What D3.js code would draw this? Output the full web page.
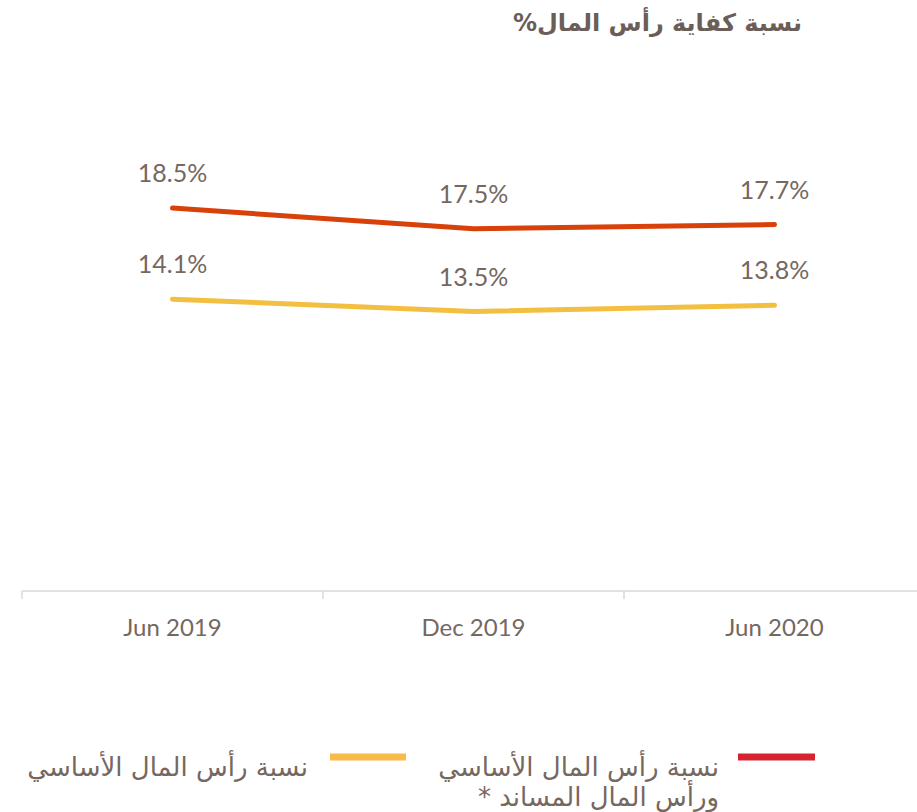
<!DOCTYPE html>
<html>
<head>
<meta charset="utf-8">
<script src="https://cdn.jsdelivr.net/npm/d3@7"></script>
<style>
  body { margin: 0; background: #fff; }
  svg text { font-family: Lato, "Open Sans", sans-serif; }
  .ar { font-family: "DejaVu Sans", "Noto Sans", sans-serif; }
</style>
</head>
<body>
<div id="chart"></div>
<script>
const periods = ["Jun 2019", "Dec 2019", "Jun 2020"];
const totalCar = [18.5, 17.5, 17.7];   // core + supplementary
const coreCar = [14.1, 13.5, 13.8];
const title = "نسبة كفاية رأس المال%";
const legendCore = "نسبة رأس المال الأساسي";
const legendTotal = ["نسبة رأس المال الأساسي", "ورأس المال المساند *"];

const width = 917, height = 812;
const textColor = "#76675f";

const svg = d3.select("#chart").append("svg")
    .attr("width", width)
    .attr("height", height);

const x = d3.scaleBand()
    .domain(periods)
    .range([22, 925])
    .paddingInner(0)
    .paddingOuter(0);

const y = d3.scaleLinear()
    .domain([0, 20])
    .range([591, 177]);

// title
svg.append("text")
    .attr("class", "ar")
    .attr("x", 802)
    .attr("y", 31)
    .attr("direction", "rtl")
    .attr("text-anchor", "start")
    .attr("font-size", 24)
    .attr("font-weight", "bold")
    .attr("fill", "#6b5e57")
    .text(title);

// x axis
const axisG = svg.append("g").attr("transform", "translate(0,591)");
axisG.append("line")
    .attr("x1", 22).attr("x2", width)
    .attr("stroke", "#d9d9d9").attr("stroke-width", 1.5);
axisG.selectAll("line.tick")
    .data(periods)
    .enter().append("line")
    .attr("class", "tick")
    .attr("x1", d => x(d)).attr("x2", d => x(d))
    .attr("y1", 0).attr("y2", 8)
    .attr("stroke", "#d9d9d9").attr("stroke-width", 1.5);
axisG.selectAll("text")
    .data(periods)
    .enter().append("text")
    .attr("x", d => x(d) + x.bandwidth() / 2)
    .attr("y", 45)
    .attr("text-anchor", "middle")
    .attr("font-size", 24)
    .attr("fill", textColor)
    .text(d => d);

const line = d3.line()
    .x((d, i) => x(periods[i]) + x.bandwidth() / 2)
    .y(d => y(d));

const series = [
    { values: totalCar, color: "#d9410b" },
    { values: coreCar, color: "#f2bf40" }
];

series.forEach(s => {
    svg.append("path")
        .datum(s.values)
        .attr("d", line)
        .attr("fill", "none")
        .attr("stroke", s.color)
        .attr("stroke-width", 5)
        .attr("stroke-linecap", "round");

    svg.selectAll(null)
        .data(s.values)
        .enter().append("text")
        .attr("x", (d, i) => x(periods[i]) + x.bandwidth() / 2)
        .attr("y", d => y(d) - 26)
        .attr("text-anchor", "middle")
        .attr("font-size", 25)
        .attr("fill", textColor)
        .text(d => d.toFixed(1) + "%");
});

// legend
svg.append("line")
    .attr("x1", 738).attr("x2", 815)
    .attr("y1", 757).attr("y2", 757)
    .attr("stroke", "#d5232f").attr("stroke-width", 7);
svg.append("line")
    .attr("x1", 330).attr("x2", 406)
    .attr("y1", 757).attr("y2", 757)
    .attr("stroke", "#f8bb4a").attr("stroke-width", 7);

legendTotal.forEach((t, i) => {
    svg.append("text")
        .attr("class", "ar")
        .attr("x", 719)
        .attr("y", 776 + i * 30)
        .attr("direction", "rtl")
        .attr("text-anchor", "start")
        .attr("font-size", 26)
        .attr("fill", textColor)
        .text(t);
});
svg.append("text")
    .attr("class", "ar")
    .attr("x", 308)
    .attr("y", 776)
    .attr("direction", "rtl")
    .attr("text-anchor", "start")
    .attr("font-size", 26)
    .attr("fill", textColor)
    .text(legendCore);
</script>
</body>
</html>
